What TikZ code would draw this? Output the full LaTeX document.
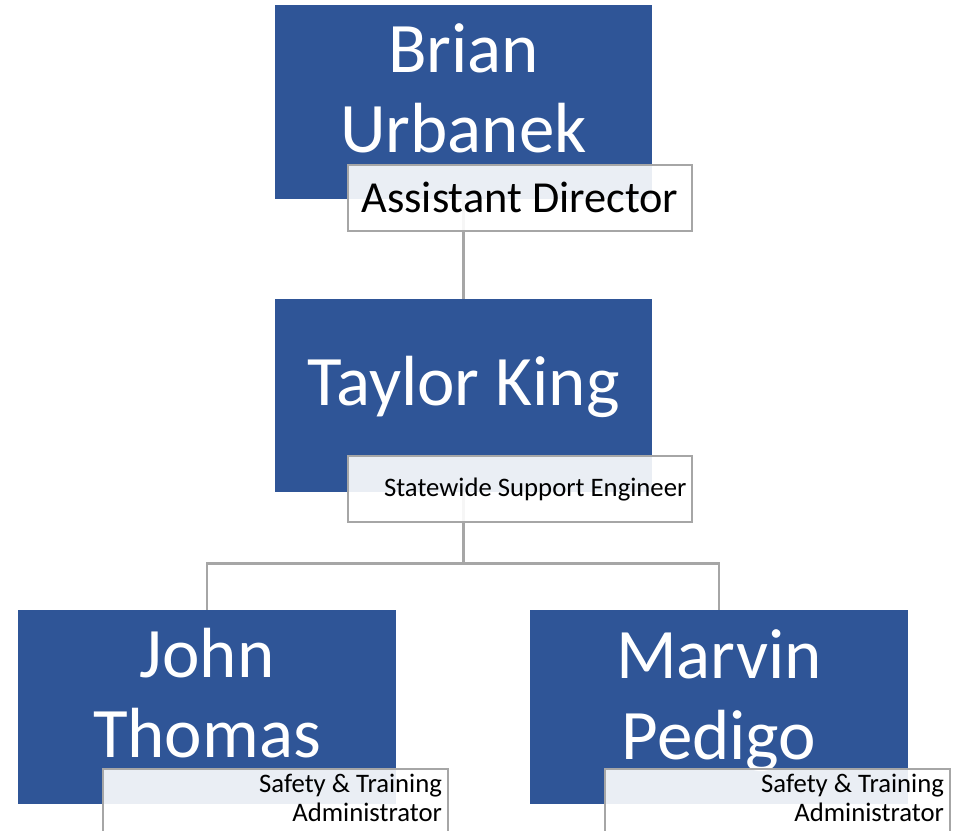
\documentclass[tikz,border=0pt]{standalone}
\usepackage{fontspec}
\setmainfont{Carlito}
\usepackage{tikz}
\usetikzlibrary{positioning}
\usepackage{xcolor}
\definecolor{boxblue}{RGB}{47,85,151}
\definecolor{edgegray}{RGB}{166,166,166}

\tikzset{
  namebox/.style={rectangle,fill=boxblue,minimum width=9.43cm,minimum height=4.83cm,inner sep=0pt},
  nametext/.style={text=white,align=center,font=\fontsize{50.5}{57}\selectfont},
  rolebox/.style={rectangle,draw=edgegray,line width=1.4pt,fill=white,fill opacity=0.9,text opacity=1,
    minimum width=8.62cm,minimum height=1.65cm,anchor=north west,inner xsep=0.15cm},
  link/.style={draw=edgegray,line width=2pt}
}

\begin{document}
\begin{tikzpicture}[x=0.025cm,y=-0.025cm]
    \useasboundingbox (0,0) rectangle (958,830);

    % boxes
    \node[namebox] (brian) at (463.5,102) {};
    \node[namebox] (taylor) at (463.5,395.5) {};
    \node[namebox] (john) at (207,707) {};
    \node[namebox] (marvin) at (719,707) {};

    % connectors
    \draw[link] (brian.south) -- (taylor.north);
    \draw[link] (taylor.south) -- ++(0,71) -| (john.north);
    \draw[link] (taylor.south) -- ++(0,71) -| (marvin.north);

    % names
    \node[nametext,yshift=0.35cm] (briantxt) at (brian.center) {Brian\\Urbanek};
    \node[nametext,yshift=0.21cm] (taylortxt) at (taylor.center) {Taylor King};
    \node[nametext,yshift=0.35cm] (johntxt) at (john.center) {John\\Thomas};
    \node[nametext,yshift=0.16cm] (marvintxt) at (marvin.center) {Marvin\\Pedigo};

    % titles
    \node[rolebox,font=\fontsize{31.5}{35}\selectfont] (brianrole)
      at ([xshift=1.8cm,yshift=0.88cm]brian.south west) {Assistant Director};
    \node[rolebox,text width=8.32cm,align=flush right,font=\fontsize{19}{21}\selectfont] (taylorrole)
      at ([xshift=1.8cm,yshift=0.93cm]taylor.south west) {Statewide Support Engineer};
    \node[rolebox,text width=8.32cm,align=flush right,font=\fontsize{19}{20.6}\selectfont] (johnrole)
      at ([xshift=2.1cm,yshift=0.9cm]john.south west) {Safety \& Training\\Administrator\rule[-6pt]{0pt}{6pt}};
    \node[rolebox,text width=8.32cm,align=flush right,font=\fontsize{19}{20.6}\selectfont] (marvinrole)
      at ([xshift=1.85cm,yshift=0.9cm]marvin.south west) {Safety \& Training\\Administrator\rule[-6pt]{0pt}{6pt}};
\end{tikzpicture}
\end{document}
